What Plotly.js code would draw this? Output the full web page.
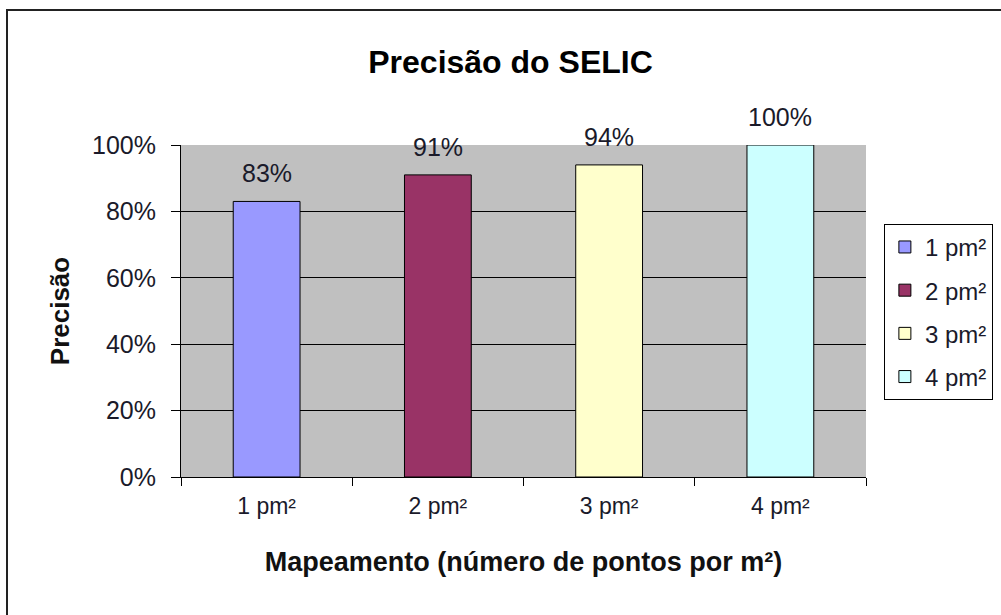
<!DOCTYPE html>
<html>
<head>
<meta charset="utf-8">
<script src="https://cdn.plot.ly/plotly-3.0.1.min.js"></script>
<style>
  html, body { margin: 0; padding: 0; background: #fff; }
  #wrap { position: relative; width: 1001px; height: 615px; overflow: hidden; }
  #chart { width: 1001px; height: 615px; }
  #frame { position: absolute; left: 6px; top: 9px; width: 1001px; height: 620px;
           border-left: 2px solid #222; border-top: 2px solid #222; pointer-events: none; }
</style>
</head>
<body>
<div id="wrap">
  <div id="chart"></div>
  <div id="frame"></div>
</div>
<script>
const categories = ['1 pm²', '2 pm²', '3 pm²', '4 pm²'];
const seriesNames = ['1 pm²', '2 pm²', '3 pm²', '4 pm²'];
const precision = [0.83, 0.91, 0.94, 1.00];
const labels = ['83%', '91%', '94%', '100%'];
const colors = ['#9999FF', '#993366', '#FFFFCC', '#CCFFFF'];

const FONT = 'Arial, "Liberation Sans", sans-serif';

const traces = categories.map((c, i) => ({
  type: 'bar',
  name: seriesNames[i],
  x: [c],
  y: [precision[i]],
  width: 0.39,
  legendgroup: 'g' + i,
  marker: { color: colors[i], line: { color: '#000', width: 1 } },
  hoverinfo: 'skip'
}));

const annotations = categories.map((c, i) => ({
  x: c, y: precision[i], xref: 'x', yref: 'y',
  text: labels[i], showarrow: false,
  yanchor: 'bottom', yshift: 12,
  font: { family: FONT, size: 25, color: '#1a1a2a' }
}));

const layout = {
  width: 1001, height: 615,
  margin: { l: 181, r: 135, t: 145, b: 138 },
  paper_bgcolor: '#fff',
  plot_bgcolor: '#C0C0C0',
  barmode: 'overlay',
  font: { family: FONT, size: 24, color: '#000' },
  title: {
    text: 'Precisão do SELIC',
    x: 0.51, xref: 'container', xanchor: 'center',
    y: 0.899, yref: 'container', yanchor: 'middle',
    font: { family: FONT, size: 32, weight: 'bold', color: '#000' }
  },
  xaxis: {
    type: 'category',
    categoryorder: 'array', categoryarray: categories,
    range: [-0.5, 3.5],
    tickson: 'boundaries',
    ticks: 'outside', ticklen: 8, tickcolor: '#000', tickwidth: 1,
    ticklabelstandoff: 8,
    showline: true, linecolor: '#000', linewidth: 1,
    showgrid: false,
    tickfont: { family: FONT, size: 23, color: '#1a1a2a' },
    title: { text: 'Mapeamento (número de pontos por m²)', standoff: 34,
             font: { family: FONT, size: 27, weight: 'bold', color: '#111' } }
  },
  yaxis: {
    range: [0, 1], dtick: 0.2, tick0: 0,
    tickformat: '.0%',
    ticks: 'outside', ticklen: 9, tickcolor: '#000', tickwidth: 1,
    ticklabelstandoff: 10,
    showline: true, linecolor: '#000', linewidth: 1,
    showgrid: true, gridcolor: '#000', gridwidth: 1,
    zeroline: false,
    tickfont: { family: FONT, size: 25, color: '#1a1a2a' },
    title: { text: 'Precisão', standoff: 14,
             font: { family: FONT, size: 26, weight: 'bold', color: '#111' } }
  },
  showlegend: true,
  legend: {
    xref: 'container', yref: 'container',
    x: 0.883, xanchor: 'left', y: 0.636, yanchor: 'top',
    bordercolor: '#000', borderwidth: 1, bgcolor: '#fff',
    traceorder: 'grouped',
    tracegroupgap: 9,
    font: { family: FONT, size: 24, color: '#1a1a2a' },
    itemwidth: 30
  },
  annotations: annotations
};

Plotly.newPlot('chart', traces, layout, { staticPlot: true, displayModeBar: false });
</script>
</body>
</html>
